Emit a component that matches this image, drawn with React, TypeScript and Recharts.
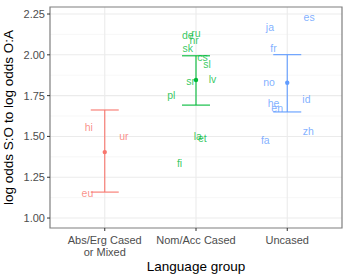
import React from "react";
import {
    ComposedChart,
    Scatter,
    ErrorBar,
    XAxis,
    YAxis,
    CartesianGrid,
    ReferenceArea,
} from "recharts";

// language groups on the x axis (1, 2, 3)
const groups = ["Abs/Erg Cased\nor Mixed", "Nom/Acc Cased", "Uncased"];
const groupColors = ["#F8766D", "#00BA38", "#619CFF"];

// per-language labels: code, jittered x, value
const absErgLangs = ["hi", "ur", "eu"];
const absErgX = [0.825, 1.21, 0.81];
const absErgY = [1.558, 1.502, 1.153];

const nomAccLangs = ["de", "ru", "hr", "sk", "cs", "sl", "lv", "sr", "pl", "la", "et", "fi"];
const nomAccX = [1.91, 2.0, 1.98, 1.91, 2.07, 2.12, 2.18, 1.94, 1.73, 2.02, 2.07, 1.82];
const nomAccY = [2.121, 2.13, 2.09, 2.04, 1.987, 1.94, 1.852, 1.84, 1.754, 1.5, 1.49, 1.337];

const uncasedLangs = ["es", "ja", "fr", "no", "id", "he", "en", "zh", "fa"];
const uncasedX = [3.24, 2.81, 2.85, 2.8, 3.21, 2.85, 2.89, 3.23, 2.76];
const uncasedY = [2.232, 2.17, 2.04, 1.833, 1.73, 1.7, 1.67, 1.533, 1.478];

// group means with lower / upper bounds
const groupMeans = [1.404, 1.846, 1.829];
const groupLow = [1.159, 1.692, 1.65];
const groupHigh = [1.662, 1.994, 2.001];

const yTicks = [1.0, 1.25, 1.5, 1.75, 2.0, 2.25];
const yMinor = [1.125, 1.375, 1.625, 1.875, 2.125];

const FONT = "'Liberation Sans', Arial, sans-serif";

const toPoints = (langs: string[], xs: number[], ys: number[]) =>
    langs.map((lang, i) => ({ x: xs[i], y: ys[i], lang }));

const labelSets = [
    toPoints(absErgLangs, absErgX, absErgY),
    toPoints(nomAccLangs, nomAccX, nomAccY),
    toPoints(uncasedLangs, uncasedX, uncasedY),
];

const summary = groupMeans.map((m, i) => [
    { x: i + 1, y: m, err: [m - groupLow[i], groupHigh[i] - m] },
]);

const makeLabel = (color: string) => (props: any) => (
    <text
        x={props.cx}
        y={props.cy}
        dy="0.35em"
        textAnchor="middle"
        fill={color}
        fillOpacity={0.8}
        fontSize={10.5}
        fontFamily={FONT}
    >
        {props.payload.lang}
    </text>
);

const makeDot = (color: string) => (props: any) => (
    <circle cx={props.cx} cy={props.cy} r={2.2} fill={color} />
);

const XTick = (props: any) => {
    const { x, y, payload } = props;
    const lines = groups[payload.value - 1].split("\n");
    return (
        <text x={x} y={y + 7} textAnchor="middle" fill="#4D4D4D" fontSize={11} fontFamily={FONT}>
            {lines.map((l, i) => (
                <tspan key={i} x={x} dy={i === 0 ? "0.35em" : 12}>
                    {l}
                </tspan>
            ))}
        </text>
    );
};

export default function App() {
    return (
        <div style={{ position: "absolute", left: 0, top: 0, background: "#fff" }}>
            <ComposedChart
                width={349}
                height={279}
                margin={{ top: 7, right: 7, left: 0, bottom: 0 }}
            >
                <CartesianGrid
                    horizontalValues={yMinor}
                    vertical={false}
                    stroke="#F2F2F2"
                    strokeWidth={0.6}
                />
                <CartesianGrid
                    horizontalValues={yTicks}
                    verticalValues={[1, 2, 3]}
                    stroke="#EBEBEB"
                    strokeWidth={1.1}
                />
                <XAxis
                    type="number"
                    dataKey="x"
                    domain={[0.4, 3.6]}
                    ticks={[1, 2, 3]}
                    allowDataOverflow
                    height={51}
                    axisLine={false}
                    tickSize={3}
                    tickLine={{ stroke: "#333333" }}
                    tick={<XTick />}
                    label={{
                        value: "Language group",
                        position: "insideBottom",
                        offset: 8,
                        fill: "#000",
                        fontSize: 13.5,
                        fontFamily: FONT,
                    }}
                />
                <YAxis
                    type="number"
                    dataKey="y"
                    domain={[0.939, 2.293]}
                    ticks={yTicks}
                    allowDataOverflow
                    width={50}
                    axisLine={false}
                    tickSize={3}
                    tickLine={{ stroke: "#333333" }}
                    tickFormatter={(v: number) => v.toFixed(2)}
                    tick={{ fill: "#4D4D4D", fontSize: 11, fontFamily: FONT }}
                    label={{
                        value: "log odds S:O to log odds O:A",
                        angle: -90,
                        position: "insideLeft",
                        offset: 8,
                        style: { textAnchor: "middle" },
                        fill: "#000",
                        fontSize: 13.5,
                        fontFamily: FONT,
                    }}
                />
                {labelSets.map((pts, i) => (
                    <Scatter
                        key={"lab" + i}
                        data={pts}
                        shape={makeLabel(groupColors[i])}
                        isAnimationActive={false}
                    />
                ))}
                {summary.map((pts, i) => (
                    <Scatter
                        key={"sum" + i}
                        data={pts}
                        shape={makeDot(groupColors[i])}
                        isAnimationActive={false}
                    >
                        <ErrorBar
                            dataKey="err"
                            direction="y"
                            width={14}
                            stroke={groupColors[i]}
                            strokeWidth={1.1}
                            isAnimationActive={false}
                        />
                    </Scatter>
                ))}
                <ReferenceArea
                    x1={0.4}
                    x2={3.6}
                    y1={0.939}
                    y2={2.293}
                    fill="none"
                    stroke="#7F7F7F"
                    strokeWidth={1.2}
                    ifOverflow="visible"
                />
            </ComposedChart>
        </div>
    );
}
